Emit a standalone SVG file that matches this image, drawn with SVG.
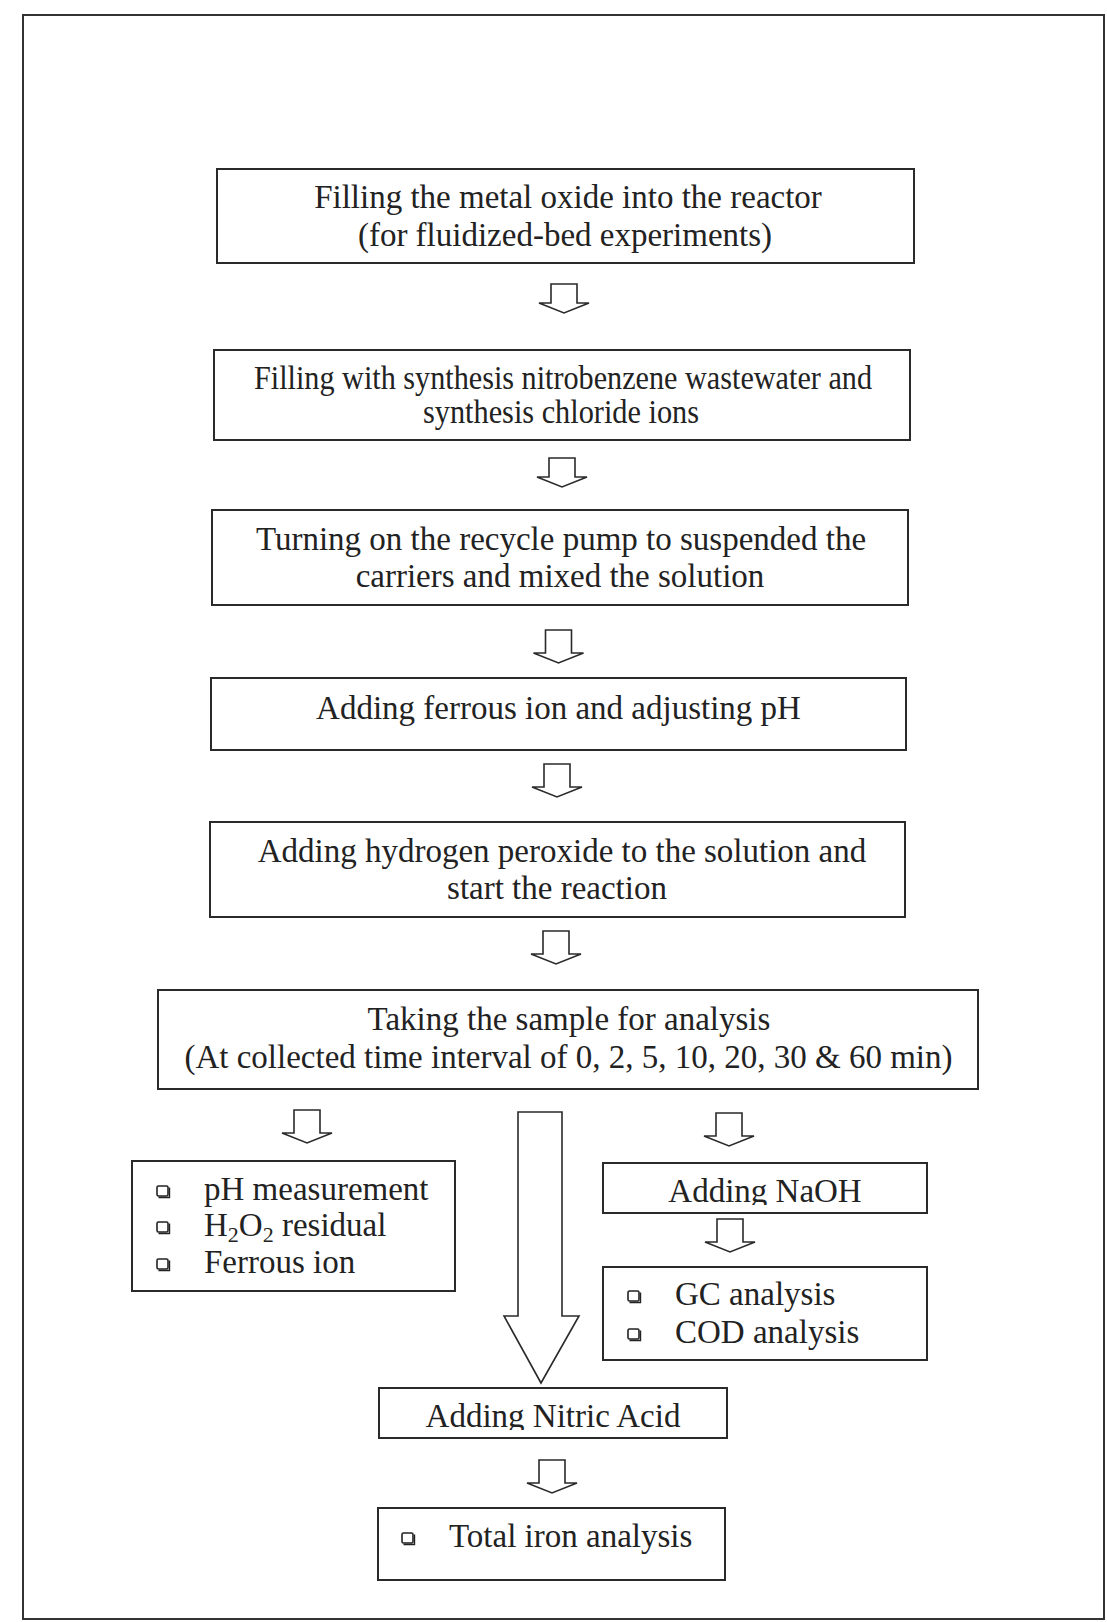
<svg xmlns="http://www.w3.org/2000/svg" xmlns:xlink="http://www.w3.org/1999/xlink" width="1107" height="1622" viewBox="0 0 1107 1622">
<style>
.frame{fill:none;stroke:#333;stroke-width:2}
.box{fill:#fff;stroke:#2a2a2a;stroke-width:2}
.arr{fill:#fff;stroke:#2a2a2a;stroke-width:1.6;stroke-linejoin:miter}
.t{font-family:"Liberation Serif","Times New Roman",serif;font-size:33px;fill:#222}
.c{text-anchor:middle}
.sub{font-size:22px}
.bul{fill:#fff;stroke:#222;stroke-width:1.6}
</style>
<defs>
<path id="sa" d="M-13,0 L13,0 L13,23 L25,23 L0,33 L-25,23 L-13,23 Z"/>
<path id="sb" d="M-13,0 L13,0 L13,19 L25,19 L0,29 L-25,19 L-13,19 Z"/>
<g id="bullet"><rect x="0" y="-10" width="11" height="10" rx="1.5" class="bul"/><path d="M1.5,1.5 H12.5 V-8.5" fill="none" stroke="#222" stroke-width="1.4"/></g>
<clipPath id="clipNaOH"><rect x="603" y="1163" width="324" height="42"/></clipPath>
<clipPath id="clipNitric"><rect x="379" y="1388" width="348" height="42"/></clipPath>
</defs>
<rect x="0" y="0" width="1107" height="1622" fill="#fff"/>
<rect class="frame" x="23" y="15" width="1081" height="1604"/>

<g id="connectors">
<use xlink:href="#sb" x="564" y="284" class="arr"/>
<use xlink:href="#sb" x="562" y="458" class="arr"/>
<use xlink:href="#sa" x="558.5" y="630" class="arr"/>
<use xlink:href="#sa" x="557" y="764" class="arr"/>
<use xlink:href="#sa" x="556" y="931" class="arr"/>
<use xlink:href="#sa" x="307" y="1110" class="arr"/>
<use xlink:href="#sa" x="729" y="1113" class="arr"/>
<use xlink:href="#sa" x="730" y="1219" class="arr"/>
<use xlink:href="#sa" x="552" y="1460" class="arr"/>
<path class="arr" d="M518,1112 L562,1112 L562,1316 L579,1316 L541,1383 L504,1316 L518,1316 Z"/>
</g>

<g id="n1">
<rect class="box" x="217" y="169" width="697" height="94"/>
<text class="t c" x="568" y="208">Filling the metal oxide into the reactor</text>
<text class="t c" x="565" y="246">(for fluidized-bed experiments)</text>
</g>
<g id="n2">
<rect class="box" x="214" y="350" width="696" height="90"/>
<text class="t c" x="563" y="389" textLength="618" lengthAdjust="spacingAndGlyphs">Filling with synthesis nitrobenzene wastewater and</text>
<text class="t c" x="561" y="423" textLength="276" lengthAdjust="spacingAndGlyphs">synthesis chloride ions</text>
</g>
<g id="n3">
<rect class="box" x="212" y="510" width="696" height="95"/>
<text class="t c" x="561" y="550">Turning on the recycle pump to suspended the</text>
<text class="t c" x="560" y="587">carriers and mixed the solution</text>
</g>
<g id="n4">
<rect class="box" x="211" y="678" width="695" height="72"/>
<text class="t c" x="558.5" y="719">Adding ferrous ion and adjusting pH</text>
</g>
<g id="n5">
<rect class="box" x="210" y="822" width="695" height="95"/>
<text class="t c" x="562" y="862">Adding hydrogen peroxide to the solution and</text>
<text class="t c" x="557" y="899">start the reaction</text>
</g>
<g id="n6">
<rect class="box" x="158" y="990" width="820" height="99"/>
<text class="t c" x="569" y="1030">Taking the sample for analysis</text>
<text class="t c" x="568.5" y="1068">(At collected time interval of 0, 2, 5, 10, 20, 30 &amp; 60 min)</text>
</g>
<g id="n7">
<rect class="box" x="132" y="1161" width="323" height="130"/>
<use xlink:href="#bullet" x="157" y="1196"/>
<text class="t" x="204" y="1200">pH measurement</text>
<use xlink:href="#bullet" x="157" y="1232"/>
<text class="t" x="204" y="1236">H<tspan class="sub" dy="6">2</tspan><tspan dy="-6">O</tspan><tspan class="sub" dy="6">2</tspan><tspan dy="-6"> residual</tspan></text>
<use xlink:href="#bullet" x="157" y="1269"/>
<text class="t" x="204" y="1273">Ferrous ion</text>
</g>
<g id="n8">
<rect class="box" x="603" y="1163" width="324" height="50"/>
<text class="t c" x="765" y="1202" clip-path="url(#clipNaOH)">Adding NaOH</text>
</g>
<g id="n9">
<rect class="box" x="603" y="1267" width="324" height="93"/>
<use xlink:href="#bullet" x="628" y="1301"/>
<text class="t" x="675" y="1305">GC analysis</text>
<use xlink:href="#bullet" x="628" y="1339"/>
<text class="t" x="675" y="1343">COD analysis</text>
</g>
<g id="n10">
<rect class="box" x="379" y="1388" width="348" height="50"/>
<text class="t c" x="553" y="1427" clip-path="url(#clipNitric)">Adding Nitric Acid</text>
</g>
<g id="n11">
<rect class="box" x="378" y="1508" width="347" height="72"/>
<use xlink:href="#bullet" x="402" y="1543"/>
<text class="t" x="449" y="1547">Total iron analysis</text>
</g>
</svg>
